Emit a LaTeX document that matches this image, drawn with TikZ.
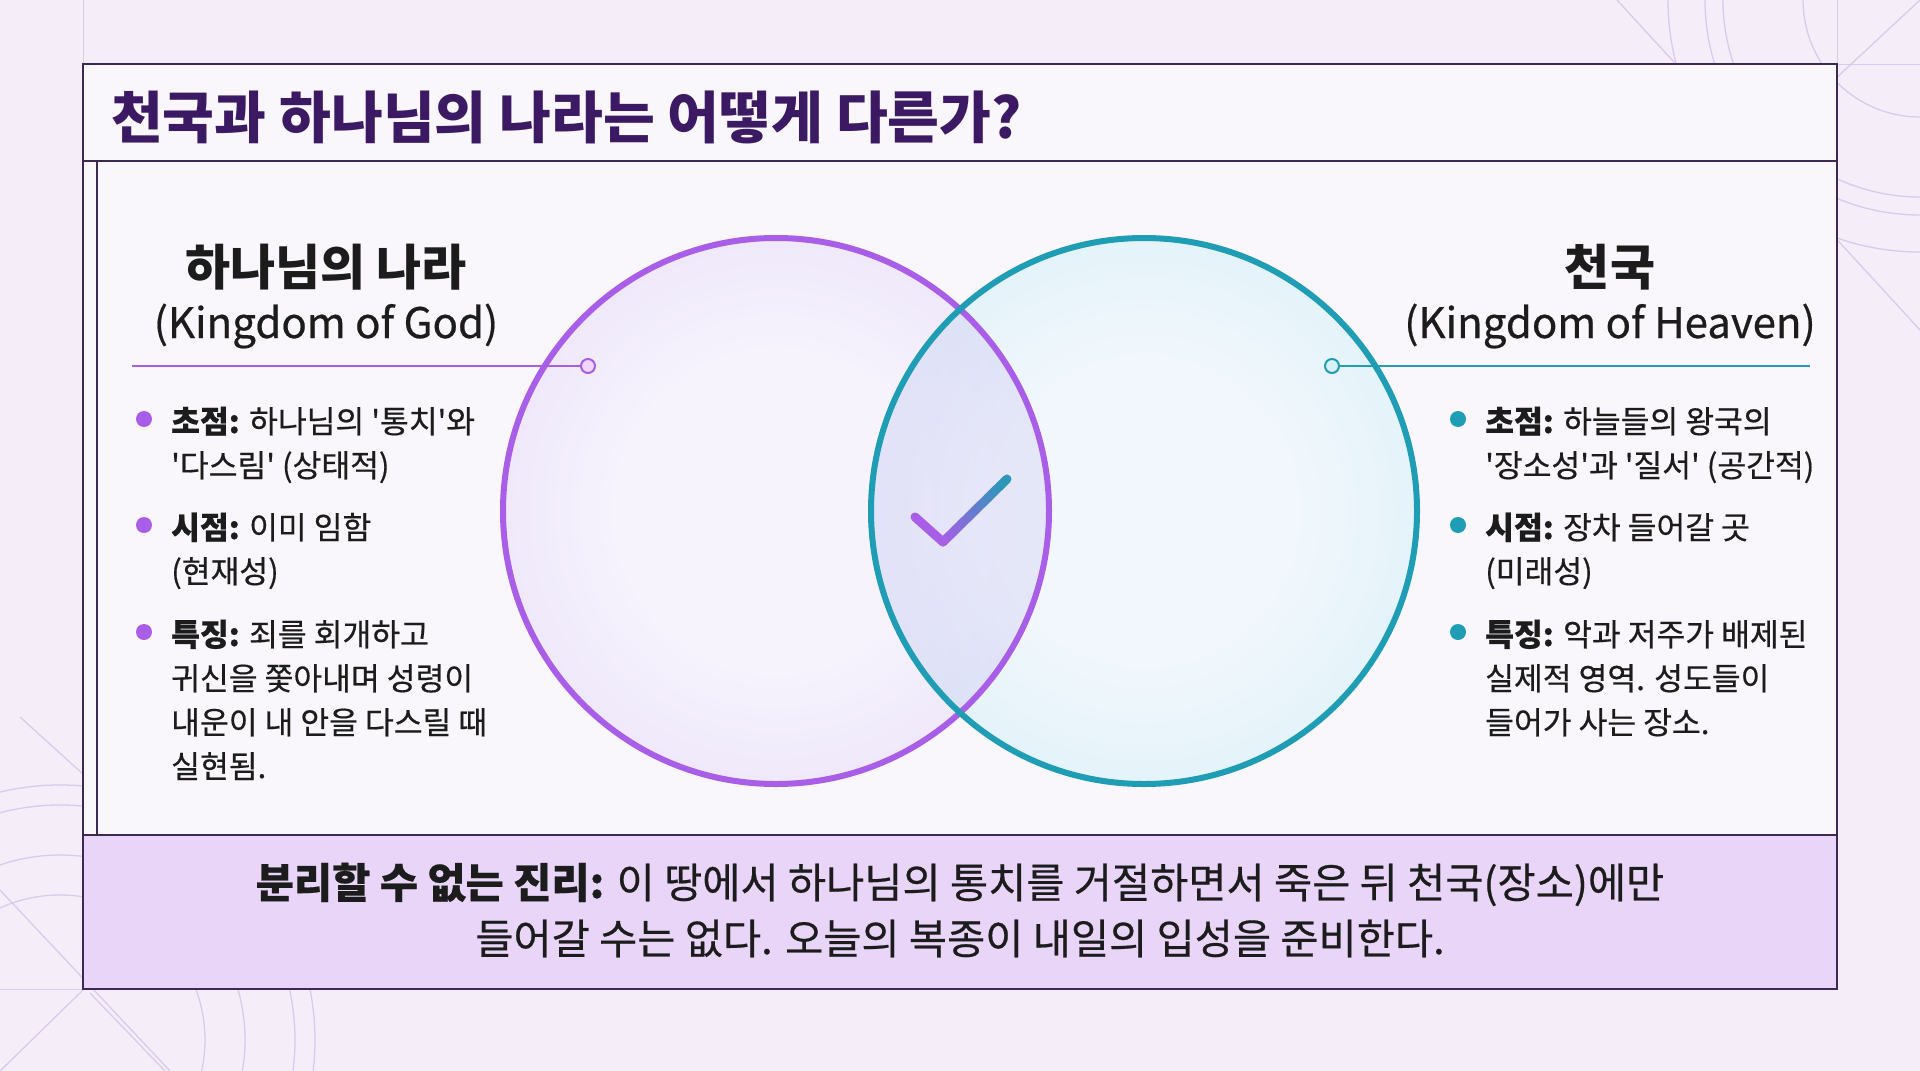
\documentclass[tikz,border=0pt]{standalone}
\usepackage{fontspec}
\setmainfont{Noto Sans CJK KR}
\newfontfamily\krmed{Noto Sans CJK KR}[FakeBold=0.5]
\usetikzlibrary{calc}
\definecolor{bgc}{HTML}{F5EEF9}
\definecolor{framec}{HTML}{3B2A55}
\definecolor{titlec}{HTML}{3B1A63}
\definecolor{txt}{HTML}{1C1C1C}
\definecolor{purp}{HTML}{A95EE8}
\definecolor{tealc}{HTML}{1E9DB4}
\definecolor{bandc}{HTML}{E8D5F7}
\definecolor{decoc}{HTML}{DACAEB}
\definecolor{lpin}{HTML}{FBF2FE}
\definecolor{lpmid}{HTML}{F0D6FC}
\definecolor{lpout}{HTML}{DEB0F8}
\definecolor{tpin}{HTML}{F1F7FC}
\definecolor{tpmid}{HTML}{D8F0F7}
\definecolor{tpout}{HTML}{ADE0EE}
\definecolor{midc}{HTML}{9C9AE8}
\pgfdeclareradialshading{lshade}{\pgfpoint{0bp}{0bp}}{color(0bp)=(lpin); color(14bp)=(lpin); color(35bp)=(lpmid); color(50bp)=(lpout)}
\pgfdeclareradialshading{rshade}{\pgfpoint{0bp}{0bp}}{color(0bp)=(tpin); color(14bp)=(tpin); color(35bp)=(tpmid); color(50bp)=(tpout)}
\newcommand\q{\textquotesingle}
\tikzset{
  frame/.style={draw=framec, line width=2.4},
  deco/.style={draw=decoc, line width=1.3},
  guide/.style={draw=decoc, line width=1},
  titletext/.style={font=\fontsize{56.3}{60}\selectfont\bfseries, text=titlec, inner sep=0, anchor=base west},
  head/.style={font=\fontsize{49}{52}\selectfont\bfseries, text=txt, inner sep=0, anchor=base},
  sub/.style={font=\fontsize{42}{46}\selectfont\krmed, text=txt, inner sep=0, anchor=base},
  body/.style={font=\fontsize{31.3}{44}\selectfont\krmed, text=txt, inner sep=0, anchor=base west},
  bottomtext/.style={font=\fontsize{41.5}{46}\selectfont\krmed, text=txt, inner sep=0, anchor=base},
  pbullet/.style={circle, fill=purp, inner sep=0, minimum size=16},
  tbullet/.style={circle, fill=tealc, inner sep=0, minimum size=16},
  pdot/.style={circle, draw=purp, fill=lpmid, line width=2, inner sep=0, minimum size=14},
  tdot/.style={circle, draw=tealc, fill=tpmid, line width=2, inner sep=0, minimum size=14},
}
\begin{document}
\begin{tikzpicture}[x=1pt,y=-1pt]
\fill[bgc] (0,0) rectangle (1920,1071);
\useasboundingbox (0,0) rectangle (1920,1071);
% decorations
\begin{scope}
\clip (0,0) rectangle (1920,1071);
\draw[guide] (83,0) -- (83,64);
\draw[guide] (1837,0) -- (1837,64);
\draw[guide] (1837,64) -- (1920,64);
\draw[guide] (0,989) -- (83,989);
\foreach \r in {117,197,215,252} \draw[deco] (1920,0) circle (\r);
\draw[deco] (1617,0) -- (1920,330);
\draw[deco] (1920,0) -- (1675,228);
\foreach \r in {145,185,235,255} \draw[deco] (60,1040) circle (\r);
\draw[deco] (20,717) -- (167,850);
\draw[deco] (0,890) -- (170,1071);
\draw[deco] (83,990) -- (0,1071);
\draw[deco] (90,993) -- (165,1071);
\end{scope}
% frame
\fill[bgc!55!white] (83,64) rectangle (1837,835);
\draw[frame] (83,64) rectangle (1837,989);
\draw[frame] (83,161) -- (1837,161);
\draw[frame] (97,161) -- (97,835);
\fill[bandc] (83,835) rectangle (1837,989);
\draw[frame] (83,835) rectangle (1837,989);
% title
\node[titletext] (title) at (111,138) {천국과 하나님의 나라는 어떻게 다른가?};
% circles
\coordinate (lc) at (776,511);
\coordinate (rc) at (1144,511);
\shade[shading=lshade] (lc) circle (273);
\shade[shading=rshade] (rc) circle (273);
\begin{scope}
\clip (lc) circle (273);
\shade[shading=lshade, opacity=0.5] (rc) circle (273);
\shade[shading=rshade, opacity=0.35] (lc) circle (273);
\fill[midc, opacity=0.14] (rc) circle (273);
\end{scope}
\draw[purp, line width=6] (lc) circle (273);
\draw[tealc, line width=6] (rc) circle (273);
% check mark
\coordinate (ck1) at (915,517);
\coordinate (ck2) at (943,542);
\coordinate (ck3) at (1007,479);
\draw[purp, line width=9, line cap=round, line join=round] (ck1) -- (ck2);
\foreach \i in {0,...,9} {
  \pgfmathsetmacro\mix{100-\i*10}
  \draw[purp!\mix!tealc, line width=9, line cap=round] ($(ck2)!\i/10!(ck3)$) -- ($(ck2)!\i/10+0.1!(ck3)$);
}
% headings
\node[head] (lhead) at (326,285) {하나님의 나라};
\node[sub] (lsub) at (326,338) {(Kingdom of God)};
\node[head] (rhead) at (1610,285) {천국};
\node[sub] (rsub) at (1610,338) {(Kingdom of Heaven)};
% leader lines
\node[pdot] (ldot) at (588,366) {};
\coordinate (lstart) at (132,366);
\draw[purp, line width=2] (lstart) -- (ldot);
\node[tdot] (rdot) at (1332,366) {};
\coordinate (rend) at (1810,366);
\draw[tealc, line width=2] (rdot) -- (rend);
% left bullets
\node[pbullet] (lb1) at (144,419) {};
\node[pbullet] (lb2) at (144,525) {};
\node[pbullet] (lb3) at (144,632) {};
\node[body] (l1a) at (171,433) {\textbf{초점:} 하나님의 \q{}통치\q{}와};
\node[body] (l1b) at (171,477) {\q{}다스림\q{} (상태적)};
\node[body] (l2a) at (171,539) {\textbf{시점:} 이미 임함};
\node[body] (l2b) at (171,583) {(현재성)};
\node[body] (l3a) at (171,646) {\textbf{특징:} 죄를 회개하고};
\node[body] (l3b) at (171,690) {귀신을 쫓아내며 성령이};
\node[body] (l3c) at (171,734) {내운이 내 안을 다스릴 때};
\node[body] (l3d) at (171,778) {실현됨.};
% right bullets
\node[tbullet] (rb1) at (1458,419) {};
\node[tbullet] (rb2) at (1458,525) {};
\node[tbullet] (rb3) at (1458,632) {};
\node[body] (r1a) at (1485,433) {\textbf{초점:} 하늘들의 왕국의};
\node[body] (r1b) at (1485,477) {\q{}장소성\q{}과 \q{}질서\q{} (공간적)};
\node[body] (r2a) at (1485,539) {\textbf{시점:} 장차 들어갈 곳};
\node[body] (r2b) at (1485,583) {(미래성)};
\node[body] (r3a) at (1485,646) {\textbf{특징:} 악과 저주가 배제된};
\node[body] (r3b) at (1485,690) {실제적 영역. 성도들이};
\node[body] (r3c) at (1485,734) {들어가 사는 장소.};
% bottom
\node[bottomtext] (bt1) at (960,898) {\textbf{분리할 수 없는 진리:} 이 땅에서 하나님의 통치를 거절하면서 죽은 뒤 천국(장소)에만};
\node[bottomtext] (bt2) at (960,954) {들어갈 수는 없다. 오늘의 복종이 내일의 입성을 준비한다.};
\end{tikzpicture}
\end{document}
